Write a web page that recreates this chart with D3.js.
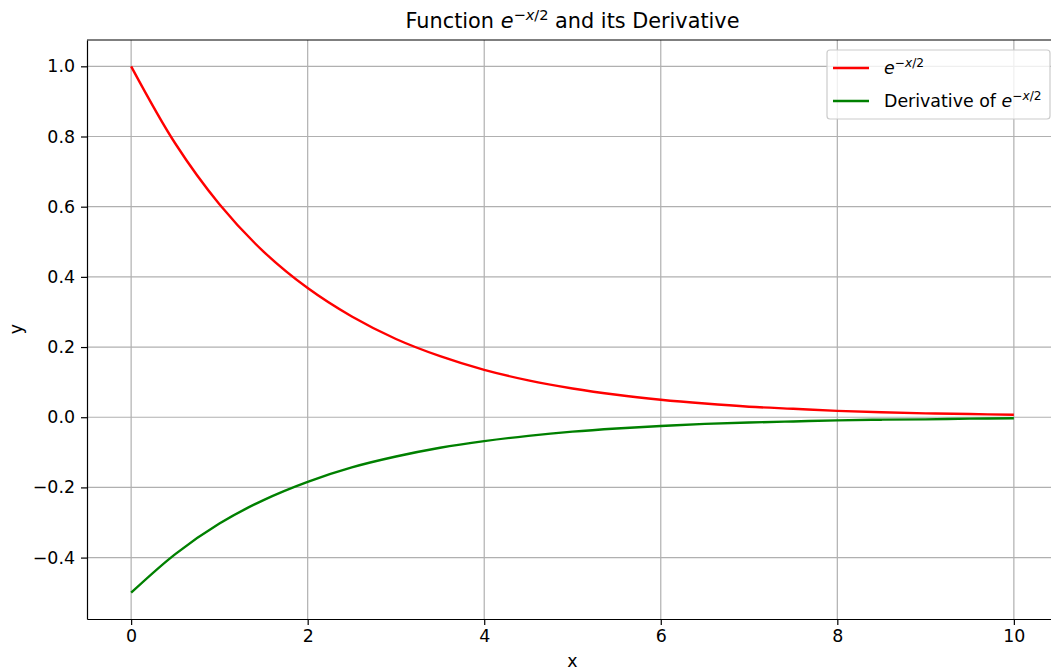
<!DOCTYPE html>
<html>
<head>
<meta charset="utf-8">
<script src="https://cdn.jsdelivr.net/npm/d3@7"></script>
<style>
  body { margin: 0; background: #fff; }
  text { font-family: "DejaVu Sans", sans-serif; fill: #000; }
</style>
</head>
<body>
<script>
// values
const xs = [0, 0.5, 1, 1.5, 2, 2.5, 3, 3.5, 4, 4.5, 5, 5.5, 6, 6.5, 7, 7.5, 8, 8.5, 9, 9.5, 10]
const fValues = [1.0, 0.78, 0.607, 0.472, 0.368, 0.287, 0.223, 0.174, 0.135, 0.105, 0.082,
                 0.064, 0.05, 0.039, 0.030, 0.024, 0.018, 0.014, 0.011, 0.009, 0.007]
const dValues = [-0.5, -0.39, -0.303, -0.236, -0.184, -0.143, -0.112, -0.087, -0.068, -0.053, -0.041,
                 -0.032, -0.025, -0.019, -0.015, -0.012, -0.009, -0.007, -0.006, -0.004, -0.003]
const xTicks = [0, 2, 4, 6, 8, 10]
const yTicks = [-0.4, -0.2, 0.0, 0.2, 0.4, 0.6, 0.8, 1.0]

const m = { width: 1051, height: 667, left: 87, right: 1058, top: 40, bottom: 619 }

const svg = d3.select("body").append("svg")
    .attr("width", m.width)
    .attr("height", m.height)

const x = d3.scaleLinear().domain([-0.5, 10.5]).range([m.left, m.right])
const y = d3.scaleLinear().domain([-0.575, 1.075]).range([m.bottom, m.top])

const fmt = d => d3.format(".1f")(d).replace("-", "\u2212")

// grid
const g = svg.append("g")
g.selectAll(".vg").data(xTicks).enter().append("line")
    .attr("x1", d => x(d)).attr("x2", d => x(d))
    .attr("y1", m.top).attr("y2", m.bottom)
    .attr("stroke", "#b0b0b0").attr("stroke-width", 1.2)
g.selectAll(".hg").data(yTicks).enter().append("line")
    .attr("x1", m.left).attr("x2", m.right)
    .attr("y1", d => y(d)).attr("y2", d => y(d))
    .attr("stroke", "#b0b0b0").attr("stroke-width", 1.2)

// lines
const line = vals => d3.line()
    .x((d, i) => x(xs[i]))
    .y(d => y(d))
    .curve(d3.curveCatmullRom)(vals)

svg.append("path").attr("d", line(fValues))
    .attr("fill", "none").attr("stroke", "#ff0000").attr("stroke-width", 2.4)
svg.append("path").attr("d", line(dValues))
    .attr("fill", "none").attr("stroke", "#008000").attr("stroke-width", 2.4)

// axes
const xAxis = svg.append("g")
    .attr("transform", `translate(0,${m.bottom})`)
    .call(d3.axisBottom(x).tickValues(xTicks).tickSize(6).tickSizeOuter(0).tickPadding(5).tickFormat(d3.format("d")))
const yAxis = svg.append("g")
    .attr("transform", `translate(${m.left},0)`)
    .call(d3.axisLeft(y).tickValues(yTicks).tickSize(6).tickSizeOuter(0).tickPadding(6).tickFormat(fmt))

;[xAxis, yAxis].forEach(a => {
  a.select(".domain").attr("stroke", "#000").attr("stroke-width", 1.2)
  a.selectAll(".tick line").attr("stroke", "#000").attr("stroke-width", 1.2)
  a.selectAll(".tick text").attr("font-size", 17.4).attr("fill", "#000")
})
svg.append("line")
    .attr("x1", m.left).attr("x2", m.right).attr("y1", m.top).attr("y2", m.top)
    .attr("stroke", "#000").attr("stroke-width", 1.2)

// title
const title = svg.append("text")
    .attr("x", (m.left + m.right) / 2).attr("y", 28)
    .attr("text-anchor", "middle").attr("font-size", 20.8)
title.append("tspan").text("Function ")
title.append("tspan").attr("font-style", "italic").text("e")
title.append("tspan").attr("font-size", 14.6).attr("dy", -8).text("\u2212")
title.append("tspan").attr("font-size", 14.6).attr("font-style", "italic").text("x")
title.append("tspan").attr("font-size", 14.6).text("/2")
title.append("tspan").attr("dy", 8).text(" and its Derivative")

// axis labels
svg.append("text").attr("x", (m.left + m.right) / 2).attr("y", 667)
    .attr("text-anchor", "middle").attr("font-size", 17.4).text("x")
svg.append("text").attr("transform", "translate(22,329) rotate(-90)")
    .attr("text-anchor", "middle").attr("font-size", 17.4).text("y")

// legend
const lg = svg.append("g")
lg.append("rect")
    .attr("x", 827).attr("y", 50).attr("width", 223).attr("height", 69)
    .attr("rx", 3).attr("fill", "#fff").attr("fill-opacity", 0.8)
    .attr("stroke", "#cccccc").attr("stroke-width", 1.2)
const items = [
  { color: "#ff0000", prefix: "", yy: 68 },
  { color: "#008000", prefix: "Derivative of ", yy: 101 }
]
items.forEach(it => {
  lg.append("line").attr("x1", 833).attr("x2", 869).attr("y1", it.yy).attr("y2", it.yy)
      .attr("stroke", it.color).attr("stroke-width", 2.4)
  const t = lg.append("text").attr("x", 884).attr("y", it.yy + 6).attr("font-size", 17.4)
  if (it.prefix) t.append("tspan").text(it.prefix)
  t.append("tspan").attr("font-style", "italic").text("e")
  t.append("tspan").attr("font-size", 12.2).attr("dy", -7).text("\u2212")
  t.append("tspan").attr("font-size", 12.2).attr("font-style", "italic").text("x")
  t.append("tspan").attr("font-size", 12.2).text("/2")
})
</script>
</body>
</html>
